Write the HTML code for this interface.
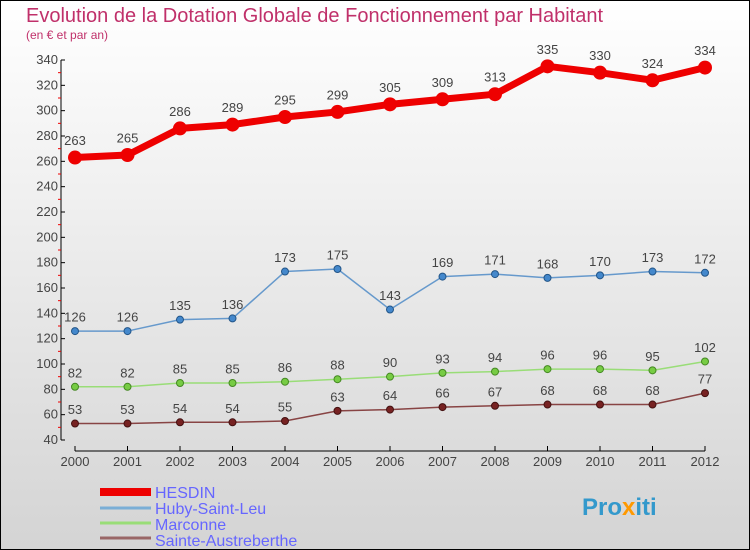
<!DOCTYPE html>
<html><head><meta charset="utf-8"><style>
body{margin:0}
svg{display:block;font-family:"Liberation Sans",sans-serif}
</style></head><body>
<svg width="750" height="550" id="c">
<defs><linearGradient id="bg" x1="0" y1="0" x2="0" y2="1"><stop offset="0" stop-color="#ffffff"/><stop offset="1" stop-color="#d4d4d4"/></linearGradient></defs>
<rect x="0.5" y="0.5" width="749" height="549" fill="url(#bg)" stroke="#000"/>
<text x="26" y="22" font-size="20" fill="#c0306a">Evolution de la Dotation Globale de Fonctionnement par Habitant</text>
<text x="26" y="39" font-size="12" fill="#c0306a">(en € et par an)</text>
<g id="axes"></g><g id="series"></g>
<g>
<rect x="100" y="488" width="51" height="8" fill="#ee0000"/>
<line x1="100" y1="508" x2="151" y2="508" stroke="#7aaed6" stroke-width="3"/>
<line x1="100" y1="523" x2="151" y2="523" stroke="#99dd77" stroke-width="3"/>
<line x1="100" y1="538" x2="151" y2="538" stroke="#996666" stroke-width="3"/>
<text x="155" y="498" font-size="16" fill="#6666ff">HESDIN</text>
<text x="155" y="514" font-size="16" fill="#6666ff">Huby-Saint-Leu</text>
<text x="155" y="530" font-size="16" fill="#6666ff">Marconne</text>
<text x="155" y="546" font-size="16" fill="#6666ff">Sainte-Austreberthe</text>
</g>
<text x="582" y="515" font-size="24" font-weight="bold" fill="#3399cc">Pro<tspan fill="#ff9900">x</tspan>iti</text>
</svg>
<script>
const years=[2000,2001,2002,2003,2004,2005,2006,2007,2008,2009,2010,2011,2012];
const yTicks=[40,60,80,100,120,140,160,180,200,220,240,260,280,300,320,340];
const hesdin=[263,265,286,289,295,299,305,309,313,335,330,324,334];
const huby=[126,126,135,136,173,175,143,169,171,168,170,173,172];
const marconne=[82,82,85,85,86,88,90,93,94,96,96,95,102];
const sainte=[53,53,54,54,55,63,64,66,67,68,68,68,77];
const NS='http://www.w3.org/2000/svg';
const X=i=>75+i*52.5, Y=v=>440-(v-40)*380/300;
function mk(t,a,p){const e=document.createElementNS(NS,t);for(const k in a)e.setAttribute(k,a[k]);p.appendChild(e);return e;}
const ax=document.getElementById('axes');
let yl=mk('line',{x1:61,y1:Y(340),x2:61,y2:Y(40),stroke:'#000'},ax);


let xl=mk('line',{x1:75,y1:451,x2:X(12),y2:451,stroke:'#000'},ax);


yTicks.forEach((v,i)=>{
  mk('line',{x1:61,y1:Y(v),x2:65,y2:Y(v),stroke:'#000'},ax);
  if(i<yTicks.length-1)mk('line',{x1:58,y1:Y(v+10),x2:61,y2:Y(v+10),stroke:'#e00'},ax);
  const t=mk('text',{x:58,y:Y(v)+4,'text-anchor':'end','font-size':13,fill:'#444'},ax);t.textContent=v;
  
  
});
years.forEach((y,i)=>{
  mk('line',{x1:X(i),y1:446,x2:X(i),y2:451,stroke:'#000'},ax);
  const t=mk('text',{x:X(i),y:466,'text-anchor':'middle','font-size':13,fill:'#444'},ax);t.textContent=y;
  
  
});
const sg=document.getElementById('series');
function series(d,name,col,w,r,fill,stroke){
  const g=mk('g',{},sg);
  
  
  mk('polyline',{points:d.map((v,i)=>X(i)+','+Y(v)).join(' '),fill:'none',stroke:col,'stroke-width':w,'stroke-linejoin':'round'},g);
  d.forEach((v,i)=>{
    const c=mk('circle',{cx:X(i),cy:Y(v),r:r,fill:fill,stroke:stroke,'stroke-width':1},g);
    
    
    const t=mk('text',{x:X(i),y:Y(v)-(r+6),'text-anchor':'middle','font-size':13,fill:'#444'},g);t.textContent=v;
    
    
  });
}
series(sainte,'sainte','#884444',1.5,3.5,'#772222','#441111');
series(marconne,'marconne','#99dd77',1.5,3.5,'#77cc44','#448822');
series(huby,'huby','#6699cc',1.5,3.5,'#4488cc','#225588');
series(hesdin,'hesdin','#ee0000',7,6.5,'#ee0000','#ee0000');
</script>
</body></html>
